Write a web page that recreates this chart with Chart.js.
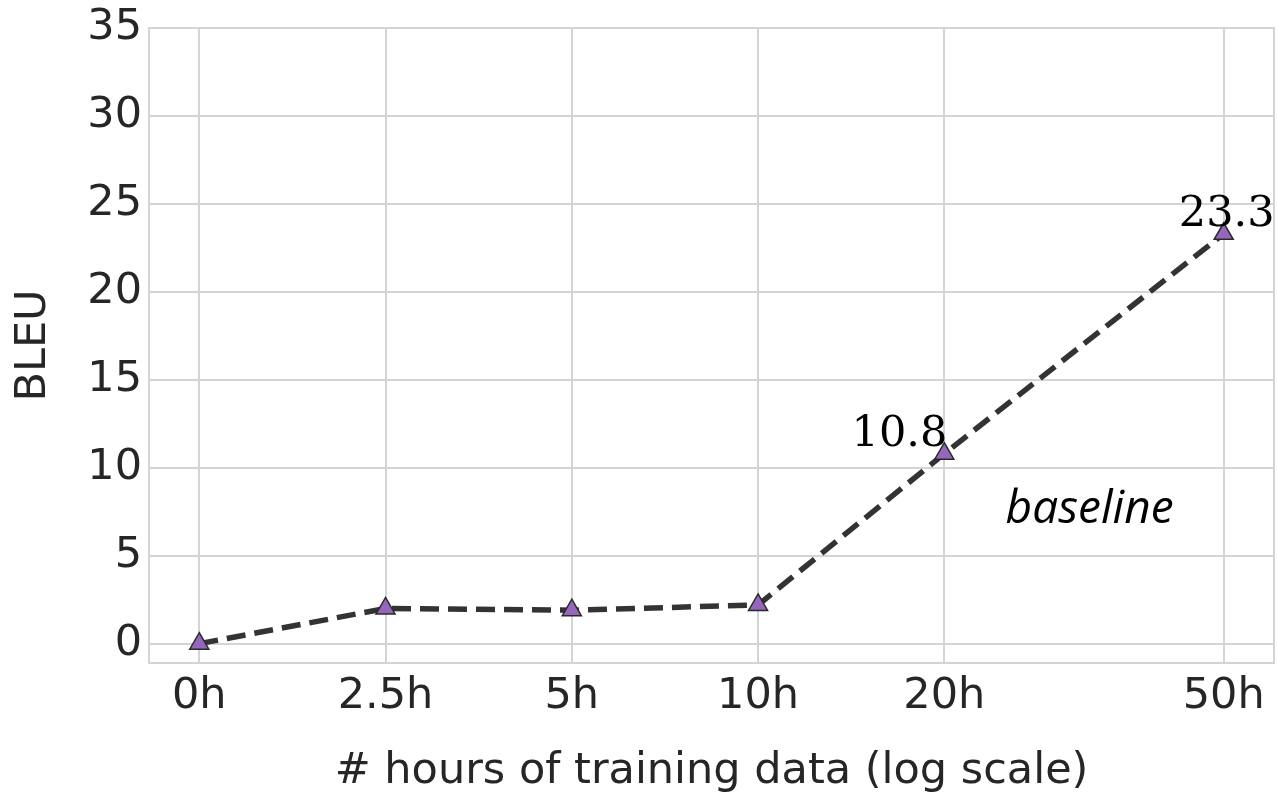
<!DOCTYPE html>
<html>
<head>
<meta charset="utf-8">
<script src="https://cdn.jsdelivr.net/npm/chart.js@4"></script>
<style>
html,body{margin:0;padding:0;background:#fff;}
#wrap{width:1277px;height:798px;position:relative;}
</style>
</head>
<body>
<div id="wrap"><canvas id="c" width="1277" height="798"></canvas></div>
<script>
// ---- data ----
const categories = ['0h', '2.5h', '5h', '10h', '20h', '50h'];
const xAxisPos = [0, 1, 2, 3, 4, 5.5];
const bleu = [0, 2.0, 1.9, 2.2, 10.8, 23.3];
const yTicks = [0, 5, 10, 15, 20, 25, 30, 35];
const labelledPoints = [4, 5];   // indices with value annotations
const seriesName = 'baseline';

const textColor = '#262626';
const gridColor = '#d4d4d4';

const points = xAxisPos.map((x, i) => ({ x: x, y: bleu[i] }));

const framePlugin = {
  id: 'frame',
  afterDraw(chart) {
    const { ctx, chartArea: a } = chart;
    ctx.save();
    ctx.strokeStyle = gridColor;
    ctx.lineWidth = 2;
    ctx.strokeRect(a.left, a.top, a.right - a.left, a.bottom - a.top);
    ctx.restore();
  }
};

const annotatePlugin = {
  id: 'annot',
  afterDatasetsDraw(chart) {
    const { ctx, scales } = chart;
    const xs = scales.x, ys = scales.y;
    ctx.save();
    ctx.fillStyle = '#000';
    ctx.font = '43px "DejaVu Serif"';
    ctx.textBaseline = 'alphabetic';
    labelledPoints.forEach((i, k) => {
      const px = xs.getPixelForValue(xAxisPos[i]);
      const py = ys.getPixelForValue(bleu[i]);
      ctx.textAlign = k === 0 ? 'right' : 'center';
      ctx.fillText(bleu[i].toFixed(1), px + 3, py - 8);
    });
    ctx.font = 'italic 46px "Open Sans"';
    ctx.textAlign = 'center';
    ctx.textBaseline = 'alphabetic';
    ctx.fillText(seriesName, xs.getPixelForValue(4.78), ys.getPixelForValue(6.85));
    ctx.restore();
  }
};

new Chart(document.getElementById('c'), {
  type: 'line',
  data: {
    datasets: [{
      label: seriesName,
      data: points,
      borderColor: '#333333',
      borderWidth: 5.5,
      borderDash: [19, 9],
      pointStyle: 'triangle',
      pointRadius: 11,
      pointBackgroundColor: '#9467bd',
      pointBorderColor: '#2a2a2a',
      pointBorderWidth: 1.5,
      fill: false,
      tension: 0,
      clip: false
    }]
  },
  options: {
    responsive: false,
    animation: false,
    devicePixelRatio: 1,
    layout: { autoPadding: false, padding: { top: 28, right: 3, left: 0, bottom: 0 } },
    plugins: { legend: { display: false }, tooltip: { enabled: false } },
    scales: {
      x: {
        type: 'linear',
        min: -0.27,
        max: 5.77,
        afterBuildTicks(s) { s.ticks = xAxisPos.map(v => ({ value: v })); },
        afterFit(s) { s.height = 135; s.paddingLeft = 0; s.paddingRight = 0; },
        grid: { color: gridColor, lineWidth: 2, drawTicks: false },
        border: { display: false },
        ticks: {
          color: textColor,
          font: { family: 'DejaVu Sans', size: 43 },
          padding: 8,
          maxRotation: 0,
          autoSkip: false,
          callback(v) { const i = xAxisPos.indexOf(v); return i >= 0 ? categories[i] : ''; }
        },
        title: {
          display: true,
          text: '# hours of training data (log scale)',
          color: textColor,
          font: { family: 'DejaVu Sans', size: 43 },
          padding: { top: 0, bottom: 0 }
        }
      },
      y: {
        type: 'linear',
        min: -1.1,
        max: 35,
        afterBuildTicks(s) { s.ticks = yTicks.map(v => ({ value: v })); },
        afterFit(s) { s.width = 149; s.paddingTop = 0; s.paddingBottom = 0; },
        grid: { color: gridColor, lineWidth: 2, drawTicks: false },
        border: { display: false },
        ticks: {
          color: textColor,
          font: { family: 'DejaVu Sans', size: 43 },
          padding: 7
        },
        title: {
          display: true,
          text: 'BLEU',
          color: textColor,
          font: { family: 'DejaVu Sans', size: 43 },
          padding: { top: 8, bottom: 0 }
        }
      }
    }
  },
  plugins: [framePlugin, annotatePlugin]
});
</script>
</body>
</html>
